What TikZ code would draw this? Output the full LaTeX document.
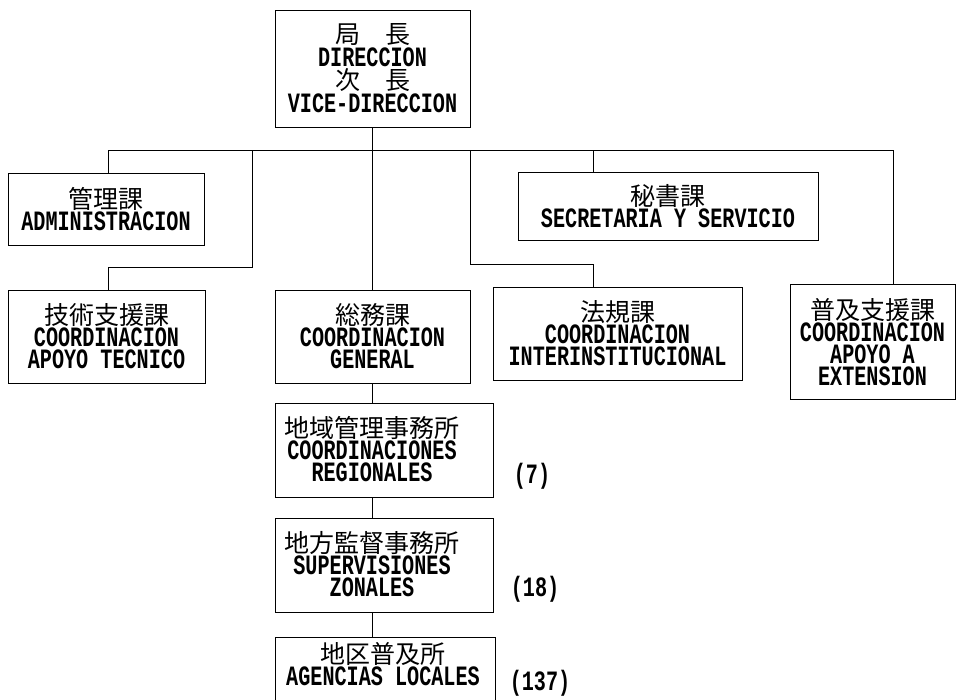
\documentclass[tikz,border=0pt]{standalone}
\usepackage{fontspec}
\setmainfont{Liberation Mono}[FakeStretch=0.72]
\newfontfamily\cjk{Noto Sans CJK JP}
\lineskiplimit=-100pt
\lineskip=0pt
\newcommand\J[1]{{\cjk\mdseries\fontsize{25}{22}\selectfont #1}}
\tikzset{
  box/.style={draw, line width=0.9pt, inner sep=0pt, align=center,
    font={\bfseries\fontsize{28}{22}\selectfont\lineskiplimit=-100pt}},
  txt/.style={inner sep=0pt, align=center,
    font={\bfseries\fontsize{28}{22}\selectfont\lineskiplimit=-100pt}},
  conn/.style={line width=0.9pt},
}
\begin{document}
\begin{tikzpicture}[x=1pt,y=-1pt]
\useasboundingbox (0,0) rectangle (958,699);
% boxes
\node[box, minimum width=195, minimum height=117,
  font={\bfseries\fontsize{28}{23}\selectfont\lineskiplimit=-100pt}] (dir) at (372.5,68.5)
  {\J{局　長}\\DIRECCION\\\J{次　長}\\VICE-DIRECCION};
\node[box, minimum width=196, minimum height=72] (adm) at (106,209)
  {\J{管理課}\\ADMINISTRACION};
\node[box, minimum width=300, minimum height=68] (sec) at (668,206)
  {\J{秘書課}\\SECRETARIA Y SERVICIO};
\node[box, minimum width=197, minimum height=93] (tec) at (106.5,336.5)
  {\J{技術支援課}\\COORDINACION\\APOYO TECNICO};
\node[box, minimum width=195, minimum height=93] (gen) at (372.5,336.5)
  {\J{総務課}\\COORDINACION\\GENERAL};
\node[box, minimum width=249, minimum height=93] (inter) at (617.5,333.5)
  {\J{法規課}\\COORDINACION\\INTERINSTITUCIONAL};
\node[box, minimum width=165, minimum height=115] (ext) at (872.5,342)
  {\J{普及支援課}\\COORDINACION\\APOYO A\\EXTENSION};
\node[box, minimum width=218, minimum height=94] (reg) at (384,450) {};
\node[txt] (regt) at (372,449)
  {\J{地域管理事務所}\\COORDINACIONES\\REGIONALES};
\node[box, minimum width=218, minimum height=94] (zon) at (384,565) {};
\node[txt] (zont) at (372,564)
  {\J{地方監督事務所}\\SUPERVISIONES\\ZONALES};
\node[txt] (loc) at (383,664) {\J{地区普及所}\\AGENCIAS LOCALES};
\draw[conn] (275,710) |- (495,637) -- (495,710);
\coordinate (loctop) at (372.5,637);
% counts
\node[txt] (n7) at (532,476) {(7)};
\node[txt] (n18) at (535,589) {(18)};
\node[txt] (n137) at (540,683) {(137)};
% connectors
\coordinate (bL) at (108,150);
\coordinate (bR) at (893,150);
\coordinate (j1) at (252,150);
\coordinate (k1) at (252,267);
\coordinate (j2) at (470,150);
\coordinate (k2) at (470,264);
\coordinate (j3) at (593,150);
\draw[conn] (dir.south) -- (gen.north);
\draw[conn] (bL) -- (bR);
\draw[conn] (bL) -- (bL |- adm.north);
\draw[conn] (j1) -- (k1) -| (bL |- tec.north);
\draw[conn] (j2) -- (k2) -| (j3 |- inter.north);
\draw[conn] (j3) -- (j3 |- sec.north);
\draw[conn] (bR) -- (bR |- ext.north);
\draw[conn] (gen.south) -- (gen.south |- reg.north);
\draw[conn] (gen.south |- reg.south) -- (gen.south |- zon.north);
\draw[conn] (gen.south |- zon.south) -- (loctop);
\end{tikzpicture}
\end{document}
